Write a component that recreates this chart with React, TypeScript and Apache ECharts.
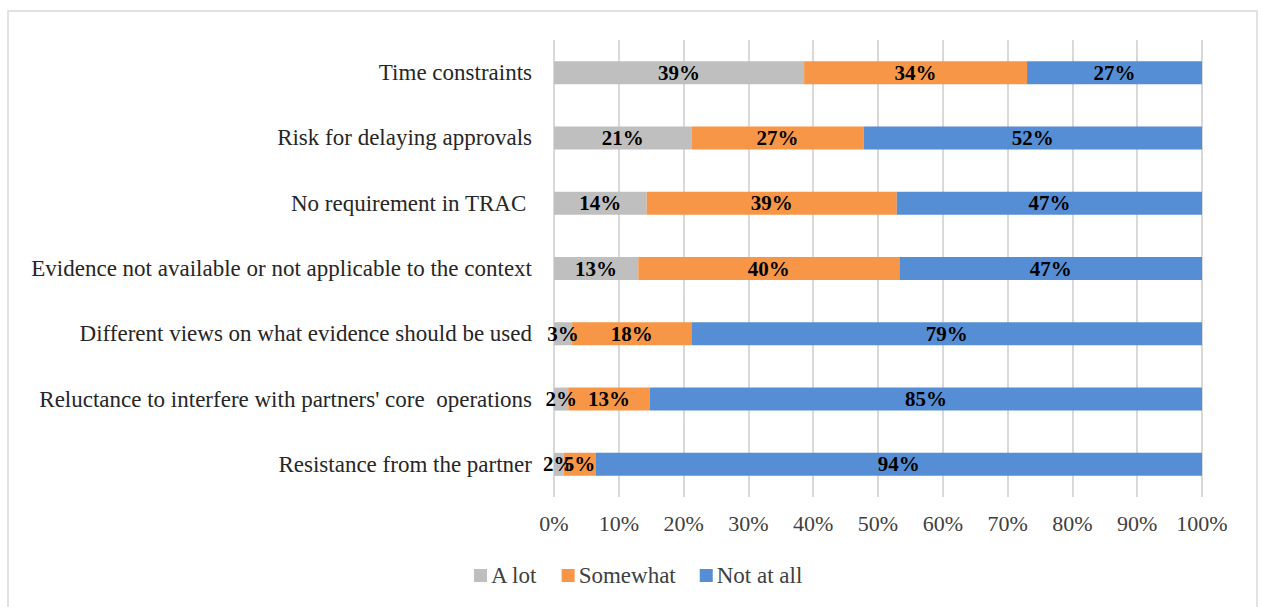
import React, { useEffect, useRef } from "react";
import * as echarts from "echarts";

const categories = [
  "Resistance from the partner",
  "Reluctance to interfere with partners' core  operations",
  "Different views on what evidence should be used",
  "Evidence not available or not applicable to the context",
  "No requirement in TRAC ",
  "Risk for delaying approvals",
  "Time constraints",
];
const seriesNames = ["A lot", "Somewhat", "Not at all"];
const aLot = [1.5, 2.2, 2.8, 13.0, 14.3, 21.2, 38.6];
const somewhat = [4.9, 12.6, 18.4, 40.3, 38.6, 26.6, 34.4];
const notAtAll = [93.6, 85.2, 78.8, 46.7, 47.1, 52.2, 27.0];
const colors = ["#bfbfbf", "#f79646", "#558ed5"];
const tickLabels = ["0%", "10%", "20%", "30%", "40%", "50%", "60%", "70%", "80%", "90%", "100%"];

const FONT = "'Liberation Serif', 'DejaVu Serif', serif";

export default function App() {
  const ref = useRef<HTMLDivElement>(null);
  useEffect(() => {
    document.body.style.margin = "0";
    const chart = echarts.init(ref.current!, null, { renderer: "svg" });
    const data = [aLot, somewhat, notAtAll];
    chart.setOption({
      animation: false,
      textStyle: { fontFamily: FONT },
      graphic: [
        {
          type: "rect",
          shape: { x: 8, y: 11, width: 1249, height: 620 },
          style: { fill: "none", stroke: "#d9d9d9", lineWidth: 1.5 },
          silent: true,
        },
      ],
      grid: { left: 554, right: 61, top: 40, bottom: 110, containLabel: false },
      legend: {
        data: seriesNames,
        top: 564,
        left: 474,
        padding: 0,
        itemWidth: 13,
        itemHeight: 13,
        itemGap: 24,
        icon: "rect",
        textStyle: { fontFamily: FONT, fontSize: 23, color: "#404040", padding: [0, 0, 0, -1] },
      },
      xAxis: {
        type: "value",
        min: 0,
        max: 100,
        interval: 10,
        axisLine: { show: false },
        axisTick: { show: false },
        splitLine: { show: true, lineStyle: { color: "#d9d9d9", width: 2 } },
        axisLabel: {
          fontFamily: FONT,
          fontSize: 22,
          color: "#404040",
          margin: 15,
          formatter: (v: number) => tickLabels[Math.round(v / 10)],
        },
      },
      yAxis: {
        type: "category",
        data: categories,
        axisLine: { show: false },
        axisTick: { show: false },
        axisLabel: { fontFamily: FONT, fontSize: 23, color: "#262626", margin: 22 },
      },
      series: seriesNames.map((name, i) => ({
        name,
        type: "bar",
        stack: "total",
        barWidth: 23,
        data: data[i],
        itemStyle: { color: colors[i] },
        label: {
          show: true,
          position: "inside",
          fontFamily: FONT,
          fontSize: 21,
          fontWeight: "bold",
          color: "#000",
          formatter: (p: any) => Math.round(p.value) + "%",
        },
      })),
    });
    return () => chart.dispose();
  }, []);
  return <div ref={ref} style={{ width: 1263, height: 607 }} />;
}
